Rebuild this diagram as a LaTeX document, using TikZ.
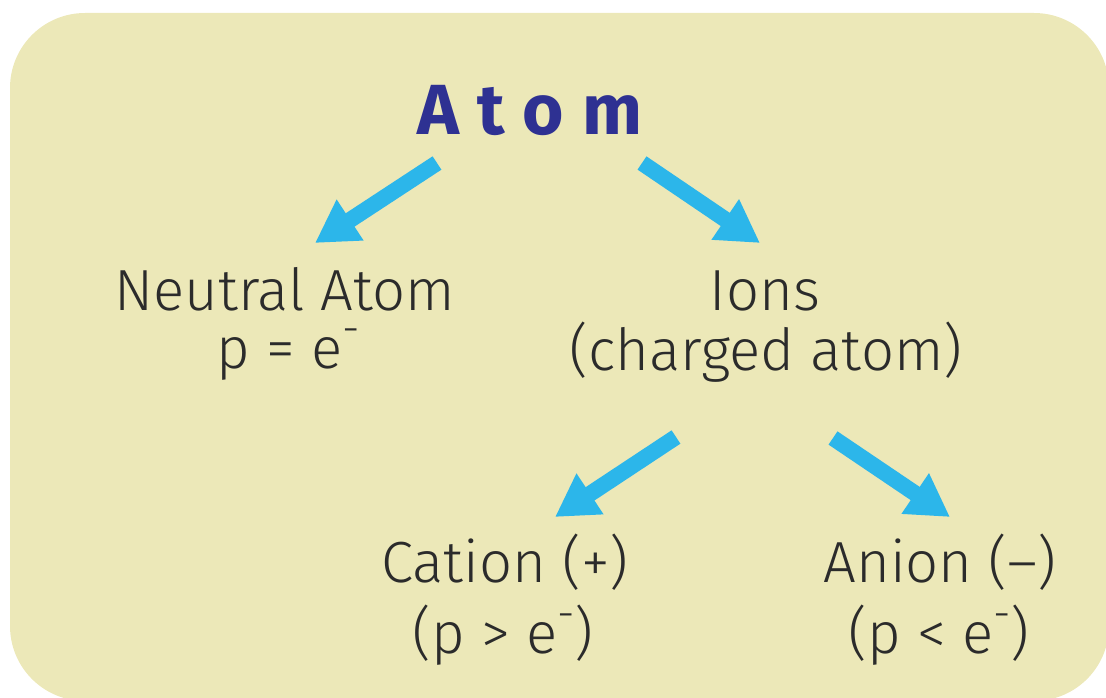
\documentclass[tikz,border=0pt]{standalone}
\usepackage{fontspec}
\setmainfont{Fira Sans}[UprightFont=* Light, BoldFont=* Bold]
\usetikzlibrary{arrows.meta}
\definecolor{bgyellow}{HTML}{ECE8B8}
\definecolor{arrowblue}{HTML}{2CB6EA}
\definecolor{titleblue}{HTML}{2E3192}
\definecolor{textgrey}{HTML}{2B2B2B}
\newcommand{\eminus}{e\smash{\raisebox{0.42em}{\scalebox{0.75}{-}}}}
\tikzset{
  lbl/.style={anchor=base, inner sep=0pt, text=textgrey, font=\fontsize{58}{58}\selectfont},
  title/.style={anchor=base, inner sep=0pt, text=titleblue, font=\fontsize{71}{71}\selectfont\bfseries},
  bigarrow/.style={draw=arrowblue, line width=16pt, line cap=butt,
    -{Triangle[length=42pt, width=46pt]}}
}
\begin{document}
\begin{tikzpicture}[x=1pt, y=-1pt]
\useasboundingbox (0,0) rectangle (1106,698);
\clip (0,0) rectangle (1106,698);
\fill[bgyellow, rounded corners=75pt] (10,13) rectangle (1109,701);

\node[title] (atom) at (530,135) {A\hspace{18pt}t\hspace{18pt}o\hspace{18pt}m};

\node[lbl] (neutral) at (285,310) {Neutral Atom};
\node[lbl] (neutralb) at (288,368) {p = \eminus};

\node[lbl] (ions) at (765,310) {Ions};
\node[lbl] (charged) at (766,370) {(charged atom)};

\node[lbl] (cation) at (505,582) {Cation (+)};
\node[lbl] (cationb) at (503,653) {(p > \eminus)};

\node[lbl] (anion) at (940,582) {Anion (–)};
\node[lbl] (anionb) at (939,653) {(p < \eminus)};

\draw[bigarrow] ([xshift=-93pt, yshift=-28pt]atom.base) -- ([xshift=30pt, yshift=67pt]neutral.base);
\draw[bigarrow] ([xshift=112pt, yshift=-28pt]atom.base) -- ([xshift=-5pt, yshift=67pt]ions.base);
\draw[bigarrow] ([xshift=-90pt, yshift=-67pt]charged.base) -- ([xshift=50pt, yshift=65pt]cation.base);
\draw[bigarrow] ([xshift=67pt, yshift=-68pt]charged.base) -- ([xshift=10pt, yshift=65pt]anion.base);
\end{tikzpicture}
\end{document}
